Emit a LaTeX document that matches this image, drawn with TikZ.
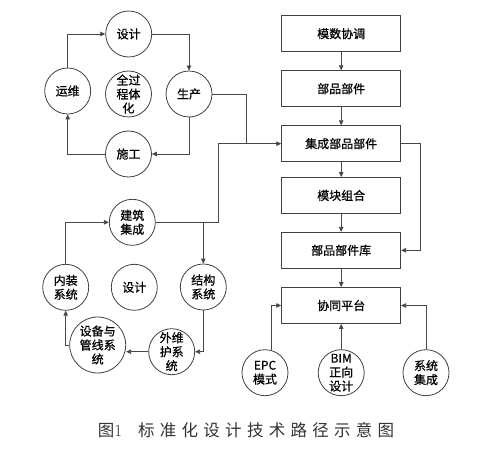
\documentclass[tikz,border=0pt]{standalone}
\usepackage{fontspec}
\newfontfamily\cjk[FakeBold=0.7]{Noto Sans CJK SC}
\newfontfamily\capfont[LetterSpace=32]{Noto Sans CJK SC}
\usetikzlibrary{arrows.meta}

\begin{document}
\begin{tikzpicture}[x=1pt,y=-1pt,
    line/.style={draw=black!72, line width=0.8pt},
    arr/.style={line, -{Triangle[length=5pt,width=4.5pt]}},
    stage/.style={circle, draw=black!75, line width=0.8pt, minimum size=46pt, inner sep=0pt,
                  align=center, font=\cjk\fontsize{12}{14}\selectfont},
    block/.style={rectangle, draw=black!75, line width=0.8pt, minimum width=119pt,
                  minimum height=36pt, font=\cjk\fontsize{12}{14}\selectfont}]
    \useasboundingbox (0,0) rectangle (500,457);

    % Full process cycle
    \node[stage] (sheji) at (128.7,34) {设计};
    \node[stage] (yunwei) at (67.7,91) {运维};
    \node[stage] (quan) at (128.5,94) {全过\\程体\\化};
    \node[stage] (shengchan) at (189,94) {生产};
    \node[stage] (shigong) at (128.5,154) {施工};
    \draw[arr] (yunwei) |- (sheji);
    \draw[arr] (sheji) -| (shengchan);
    \draw[arr] (shengchan) |- (shigong);
    \draw[arr] (shigong) -| (yunwei);

    % Main chain of boxes
    \node[block] (moshu) at (341.2,33.7) {模数协调};
    \node[block] (bupin) at (341.2,88.7) {部品部件};
    \node[block] (jicheng) at (341.2,143.7) {集成部品部件};
    \node[block] (mokuai) at (341.2,195.5) {模块组合};
    \node[block] (ku) at (341.2,250.3) {部品部件库};
    \node[block] (pingtai) at (341.2,305.5) {协同平台};
    \draw[arr] (moshu) -- (bupin);
    \draw[arr] (bupin) -- (jicheng);
    \draw[arr] (jicheng) -- (mokuai);
    \draw[arr] (mokuai) -- (ku);
    \draw[arr] (ku) -- (pingtai);
    \draw[arr] (jicheng.east) -- ++(19.3,0) |- (ku.east);

    % Building system cycle
    \node[stage] (jianzhu) at (132.3,222.3) {建筑\\集成};
    \node[stage] (neizhuang) at (65.7,287.3) {内装\\系统};
    \node[stage] (sheji2) at (134.3,287.3) {设计};
    \node[stage] (jiegou) at (203.3,287) {结构\\系统};
    \node[stage] (waiwei) at (171.7,351.7) {外维\\护系\\统};
    \node[stage, minimum size=56pt] (shebei) at (97.7,345) {设备与\\管线系\\统};
    \draw[arr] (neizhuang) |- (jianzhu);
    \draw[arr] (jiegou.north |- jianzhu.east) -- (jiegou);
    \draw[arr] (jiegou) |- (waiwei);
    \draw[arr] (waiwei.west) -- (waiwei.west -| shebei.east);
    \draw[arr] (shebei.west) -| (neizhuang.south);

    % Links into the integrated parts box
    \coordinate (join) at (246.7,143.7);
    \coordinate (rise) at (218.3,143.7);
    \draw[line] (shengchan) -| (join);
    \draw[arr] (jianzhu) -| (rise) -- (jicheng.west);

    % Inputs of the platform
    \node[stage] (epc) at (265,372.7) {EPC\\模式};
    \node[stage] (bim) at (341.2,372.7) {BIM\\正向\\设计};
    \node[stage] (xitong) at (426,372.7) {系统\\集成};
    \draw[arr] (epc.73) |- (pingtai.west);
    \draw[arr] (bim) -- (pingtai);
    \draw[arr] (xitong) |- (pingtai.east);

    % Caption
    \node[text=black!80] (caption) at (246,430)
        {{\capfont\fontsize{16.5}{18}\selectfont 图}{\fontsize{17}{18}\selectfont 1}\hspace{16pt}{\capfont\fontsize{16.5}{18}\selectfont 标准化设计技术路径示意图}};
\end{tikzpicture}
\end{document}
